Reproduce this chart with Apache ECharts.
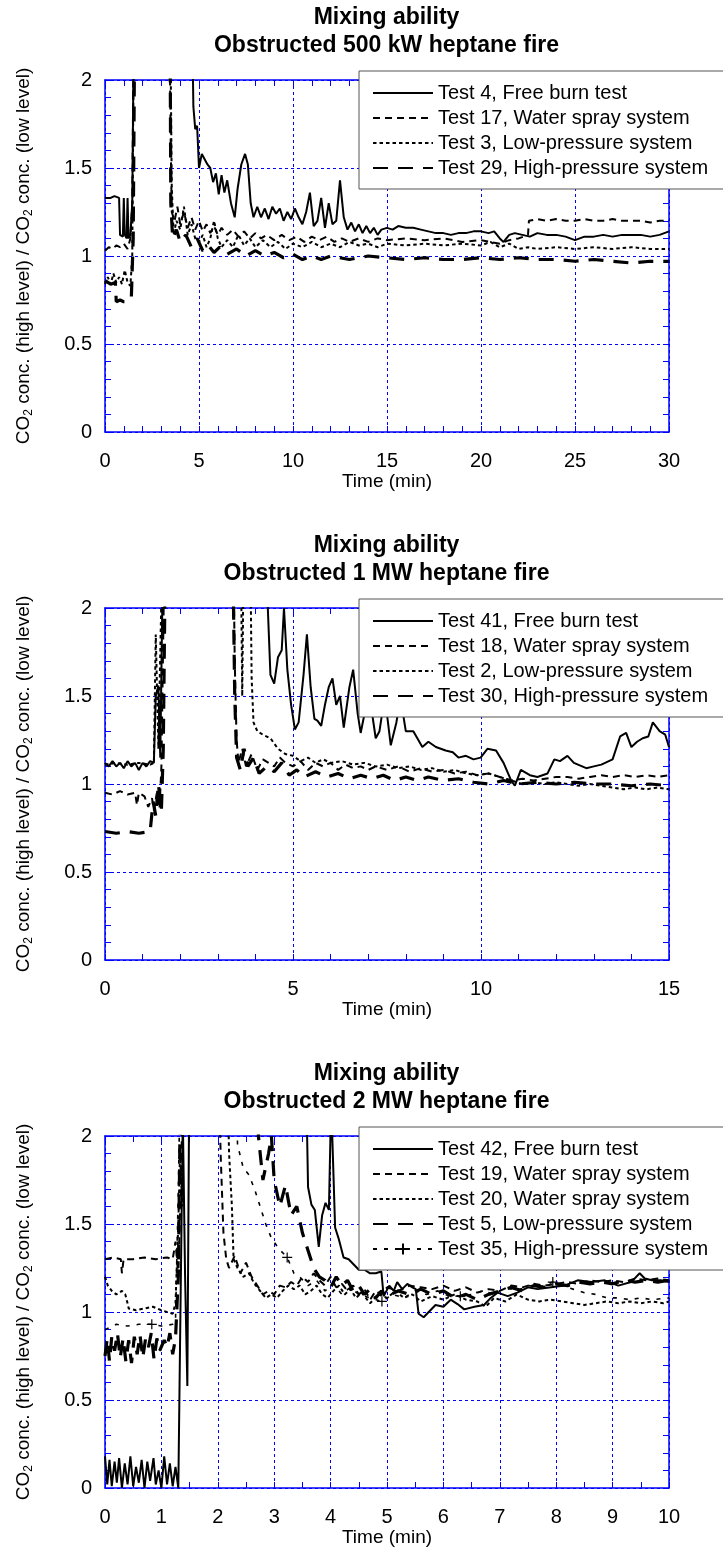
<!DOCTYPE html>
<html>
<head>
<meta charset="utf-8">
<title>Mixing ability</title>
<script src="https://cdn.jsdelivr.net/npm/echarts@6/dist/echarts.min.js"></script>
<style>
  html, body { margin: 0; padding: 0; background: #fff; }
  #chart { width: 723px; height: 1551px; }
</style>
</head>
<body>
<div id="chart"></div>
<script>
// ---- data: [time (min), ratio] ----

// 500 kW heptane fire
const t500Free = [[0,1.33],[0.3,1.33],[0.5,1.34],[0.75,1.33],[0.8,1.12],[0.95,1.11],[1.0,1.33],[1.05,1.12],[1.15,1.1],[1.2,1.33],[1.25,1.1],[1.35,1.12],[1.45,1.3],[1.5,1.9],[1.6,2.6],[4.6,2.6],[4.7,1.85],[4.8,1.72],[4.9,1.74],[5.0,1.5],[5.15,1.58],[5.3,1.55],[5.45,1.52],[5.6,1.5],[5.75,1.42],[5.9,1.47],[6.05,1.35],[6.2,1.46],[6.35,1.36],[6.5,1.43],[6.7,1.3],[6.9,1.22],[7.05,1.38],[7.25,1.52],[7.45,1.58],[7.6,1.52],[7.75,1.3],[7.9,1.22],[8.1,1.28],[8.3,1.22],[8.5,1.27],[8.7,1.21],[8.9,1.28],[9.1,1.24],[9.3,1.27],[9.5,1.2],[9.7,1.25],[9.9,1.21],[10.1,1.27],[10.3,1.22],[10.5,1.18],[10.7,1.25],[10.9,1.36],[11.1,1.17],[11.3,1.2],[11.5,1.33],[11.7,1.16],[11.9,1.3],[12.1,1.18],[12.3,1.2],[12.5,1.43],[12.7,1.22],[12.9,1.15],[13.1,1.19],[13.3,1.14],[13.5,1.18],[13.7,1.13],[13.9,1.17],[14.1,1.13],[14.3,1.16],[14.5,1.12],[14.7,1.15],[15.0,1.16],[15.3,1.15],[15.6,1.17],[16.0,1.16],[16.4,1.16],[16.8,1.15],[17.2,1.14],[17.6,1.13],[18.0,1.13],[18.4,1.12],[18.8,1.13],[19.2,1.13],[19.6,1.14],[20.0,1.14],[20.4,1.13],[20.7,1.14],[21.0,1.1],[21.2,1.08],[21.5,1.12],[21.8,1.13],[22.2,1.12],[22.6,1.11],[23.0,1.13],[23.5,1.12],[24.0,1.12],[24.5,1.11],[25.0,1.09],[25.5,1.11],[26.0,1.11],[26.5,1.12],[27.0,1.11],[27.5,1.12],[28.0,1.12],[28.5,1.12],[29.0,1.11],[29.5,1.12],[30,1.14]];
const t500Spray = [[0,1.03],[0.2,1.05],[0.4,1.04],[0.6,1.06],[0.8,1.05],[1.0,1.07],[1.2,1.04],[1.35,1.1],[1.45,1.3],[1.55,2.6],[3.4,2.6],[3.5,1.6],[3.55,1.25],[3.7,1.2],[3.85,1.28],[4.0,1.18],[4.2,1.25],[4.4,1.16],[4.6,1.22],[4.8,1.15],[5.0,1.2],[5.2,1.14],[5.4,1.18],[5.6,1.13],[5.8,1.17],[6.0,1.12],[6.2,1.16],[6.5,1.12],[6.8,1.15],[7.1,1.11],[7.4,1.14],[7.7,1.1],[8.0,1.13],[8.3,1.1],[8.6,1.12],[9,1.09],[9.4,1.12],[9.8,1.09],[10.2,1.11],[10.6,1.08],[11,1.11],[11.4,1.09],[11.8,1.11],[12.2,1.08],[12.6,1.1],[13,1.08],[13.5,1.1],[14,1.08],[14.5,1.1],[15,1.09],[16,1.1],[17,1.09],[18,1.1],[19,1.08],[20,1.09],[21,1.07],[21.5,1.09],[22,1.1],[22.5,1.12],[22.55,1.2],[23,1.21],[23.5,1.2],[24,1.21],[24.5,1.2],[25,1.2],[25.5,1.21],[26,1.2],[26.5,1.2],[27,1.21],[27.5,1.2],[28,1.2],[28.5,1.2],[29,1.19],[29.5,1.2],[30,1.2]];
const t500Low = [[0,0.84],[0.15,0.88],[0.3,0.84],[0.45,0.9],[0.6,0.85],[0.75,0.88],[0.9,0.84],[1.05,0.92],[1.2,0.85],[1.35,0.83],[1.45,1.0],[1.55,2.6],[3.45,2.6],[3.55,1.4],[3.65,1.12],[3.8,1.2],[4.0,1.15],[4.2,1.28],[4.4,1.12],[4.6,1.18],[4.8,1.1],[5.0,1.08],[5.2,1.12],[5.4,1.05],[5.6,1.1],[5.8,1.2],[6.0,1.1],[6.2,1.05],[6.5,1.09],[6.8,1.05],[7.1,1.12],[7.4,1.06],[7.7,1.1],[8.0,1.05],[8.4,1.09],[8.8,1.05],[9.2,1.08],[9.6,1.04],[10,1.07],[10.5,1.05],[11,1.08],[11.5,1.05],[12,1.07],[12.5,1.05],[13,1.08],[13.5,1.06],[14,1.07],[14.5,1.05],[15,1.07],[16,1.06],[17,1.07],[18,1.06],[19,1.07],[20,1.06],[20.5,1.08],[21,1.05],[21.5,1.07],[22,1.04],[22.5,1.05],[23,1.04],[24,1.05],[25,1.04],[26,1.05],[27,1.04],[28,1.05],[29,1.04],[30,1.04]];
const t500High = [[0,0.86],[0.3,0.84],[0.55,0.85],[0.6,0.74],[0.8,0.75],[1.0,0.74],[1.2,0.74],[1.4,0.76],[1.5,1.1],[1.6,2.6],[3.45,2.6],[3.5,1.3],[3.6,1.1],[3.8,1.15],[4.0,1.08],[4.3,1.12],[4.6,1.05],[4.9,1.1],[5.2,1.03],[5.5,1.06],[5.8,1.02],[6.1,1.05],[6.5,1.01],[7,1.04],[7.5,1.0],[8,1.03],[8.5,1.0],[9,1.02],[9.5,0.99],[10,1.01],[10.5,0.98],[11,1.0],[11.5,0.98],[12,1.0],[13,0.98],[14,1.0],[15,0.99],[16,0.98],[17,0.99],[18,0.98],[19,0.98],[20,0.99],[21,0.98],[22,0.99],[23,0.98],[24,0.98],[25,0.97],[26,0.98],[27,0.97],[28,0.96],[29,0.97],[30,0.97]];

// 1 MW heptane fire
const t1mwFree = [[0,1.12],[0.1,1.1],[0.2,1.13],[0.3,1.1],[0.4,1.12],[0.5,1.09],[0.6,1.13],[0.7,1.1],[0.8,1.12],[0.9,1.08],[1.0,1.12],[1.1,1.1],[1.2,1.13],[1.3,1.12],[1.35,1.5],[1.42,1.56],[1.47,1.15],[1.52,1.14],[1.56,2.6],[4.28,2.6],[4.33,2.0],[4.4,1.62],[4.5,1.57],[4.6,1.72],[4.7,1.76],[4.76,2.0],[4.85,1.65],[4.95,1.45],[5.05,1.31],[5.15,1.35],[5.28,1.62],[5.37,1.85],[5.47,1.55],[5.57,1.37],[5.65,1.36],[5.75,1.33],[5.85,1.45],[5.95,1.55],[6.05,1.6],[6.15,1.45],[6.25,1.5],[6.35,1.32],[6.5,1.55],[6.6,1.65],[6.72,1.4],[6.8,1.29],[6.95,1.45],[7.05,1.48],[7.2,1.26],[7.3,1.3],[7.44,1.5],[7.6,1.22],[7.75,1.35],[7.86,1.49],[8.0,1.3],[8.2,1.3],[8.44,1.21],[8.6,1.24],[8.8,1.21],[9.06,1.19],[9.25,1.18],[9.4,1.15],[9.6,1.16],[9.8,1.14],[9.99,1.15],[10.17,1.2],[10.4,1.19],[10.6,1.12],[10.8,1.02],[10.9,0.99],[11.06,1.08],[11.3,1.05],[11.5,1.04],[11.77,1.06],[11.95,1.14],[12.1,1.13],[12.3,1.16],[12.47,1.12],[12.8,1.09],[13.0,1.1],[13.2,1.11],[13.5,1.14],[13.7,1.27],[13.86,1.29],[14.0,1.21],[14.15,1.24],[14.3,1.26],[14.45,1.27],[14.57,1.35],[14.75,1.3],[14.9,1.28],[15,1.21]];
const t1mwSpray = [[0,0.95],[0.2,0.94],[0.4,0.96],[0.6,0.94],[0.8,0.95],[0.85,0.88],[0.9,0.95],[1.05,0.93],[1.15,0.87],[1.25,0.92],[1.3,0.85],[1.38,0.95],[1.45,0.86],[1.5,1.1],[1.6,2.6],[3.4,2.6],[3.45,1.7],[3.5,1.25],[3.55,1.12],[3.65,1.2],[3.75,1.1],[3.9,1.17],[4.05,1.08],[4.2,1.14],[4.35,1.12],[4.5,1.1],[4.65,1.15],[4.8,1.12],[5,1.1],[5.2,1.13],[5.4,1.08],[5.6,1.12],[5.8,1.1],[6.0,1.12],[6.2,1.08],[6.4,1.11],[6.6,1.09],[6.8,1.1],[7,1.08],[7.2,1.1],[7.5,1.08],[7.8,1.1],[8.1,1.07],[8.4,1.09],[8.7,1.07],[9,1.08],[9.3,1.06],[9.6,1.07],[9.9,1.05],[10.2,1.06],[10.5,1.04],[10.8,1.02],[11.1,1.03],[11.4,1.02],[11.7,1.03],[12,1.04],[12.3,1.04],[12.6,1.03],[12.9,1.04],[13.2,1.05],[13.5,1.04],[13.8,1.05],[14.1,1.04],[14.4,1.05],[14.7,1.04],[15,1.05]];
const t1mwLow = [[0,1.11],[0.3,1.12],[0.6,1.11],[0.9,1.12],[1.2,1.11],[1.3,1.12],[1.35,1.85],[1.42,1.2],[1.48,1.85],[1.55,2.6],[3.6,2.6],[3.65,1.5],[3.7,2.6],[3.85,2.6],[3.9,1.6],[3.95,1.35],[4.05,1.3],[4.2,1.28],[4.4,1.26],[4.6,1.2],[4.8,1.17],[5.0,1.16],[5.2,1.13],[5.4,1.15],[5.6,1.12],[5.8,1.14],[6.0,1.12],[6.3,1.13],[6.6,1.11],[6.9,1.12],[7.2,1.1],[7.5,1.11],[7.8,1.09],[8.1,1.1],[8.4,1.08],[8.7,1.09],[9,1.07],[9.3,1.08],[9.6,1.06],[9.9,1.05],[10.2,1.06],[10.5,1.04],[10.8,1.02],[11.1,1.0],[11.4,1.01],[11.7,1.0],[12,1.01],[12.3,1.0],[12.6,0.99],[12.9,1.0],[13.2,0.99],[13.5,0.98],[13.8,0.97],[14.1,0.98],[14.4,0.97],[14.7,0.98],[15,0.97]];
const t1mwHigh = [[0,0.73],[0.3,0.72],[0.6,0.73],[0.9,0.72],[1.2,0.73],[1.28,0.9],[1.35,0.82],[1.42,1.0],[1.5,0.85],[1.55,1.2],[1.62,2.6],[3.38,2.6],[3.45,1.5],[3.5,1.15],[3.6,1.08],[3.7,1.2],[3.8,1.1],[3.95,1.15],[4.1,1.06],[4.3,1.1],[4.5,1.07],[4.7,1.12],[4.9,1.05],[5.1,1.08],[5.3,1.04],[5.6,1.07],[5.9,1.04],[6.2,1.06],[6.5,1.03],[6.8,1.05],[7.1,1.03],[7.4,1.05],[7.7,1.02],[8,1.04],[8.3,1.02],[8.6,1.04],[9,1.02],[9.4,1.03],[9.8,1.01],[10.2,1.0],[10.6,1.02],[11,1.0],[11.5,1.01],[12,1.0],[12.5,1.01],[13,1.0],[13.5,1.0],[14,0.99],[14.5,1.0],[15,0.99]];

// 2 MW heptane fire
const t2mwFree = [[0,0.18],[0.04,0.02],[0.08,0.16],[0.12,0.01],[0.17,0.15],[0.21,0.03],[0.25,0.17],[0.3,0.0],[0.35,0.14],[0.4,0.02],[0.45,0.18],[0.5,0.01],[0.55,0.12],[0.6,0.03],[0.65,0.16],[0.7,0.0],[0.75,0.15],[0.8,0.04],[0.86,0.17],[0.9,0.02],[0.95,0.1],[1.0,0.0],[1.05,0.18],[1.1,0.02],[1.15,0.14],[1.2,0.01],[1.25,0.12],[1.3,0.0],[1.33,0.8],[1.38,2.1],[1.42,1.2],[1.46,0.58],[1.5,2.6],[3.55,2.6],[3.6,1.71],[3.66,1.61],[3.72,1.58],[3.79,1.37],[3.85,1.55],[3.91,1.62],[3.97,1.58],[4.01,2.2],[4.08,1.48],[4.14,1.42],[4.23,1.31],[4.32,1.3],[4.41,1.27],[4.5,1.24],[4.6,1.24],[4.7,1.22],[4.8,1.22],[4.9,1.23],[4.94,1.09],[5.04,1.15],[5.12,1.12],[5.18,1.17],[5.27,1.13],[5.36,1.16],[5.45,1.14],[5.51,1.13],[5.56,0.99],[5.65,0.97],[5.74,1.0],[5.86,1.04],[6.0,1.03],[6.13,1.07],[6.25,1.045],[6.37,1.015],[6.55,1.03],[6.72,1.04],[6.84,1.08],[6.96,1.11],[7.14,1.09],[7.31,1.11],[7.5,1.14],[7.67,1.13],[7.91,1.14],[8.15,1.15],[8.38,1.18],[8.62,1.17],[8.86,1.18],[9.1,1.15],[9.33,1.17],[9.48,1.22],[9.57,1.19],[9.7,1.18],[9.85,1.18],[10,1.17]];
const t2mwSpray19 = [[0,1.3],[0.15,1.31],[0.28,1.3],[0.3,1.22],[0.33,1.3],[0.5,1.3],[0.7,1.31],[0.9,1.3],[1.1,1.31],[1.2,1.3],[1.25,1.4],[1.3,1.2],[1.35,1.8],[1.4,2.6],[2.0,2.6],[2.05,1.9],[2.1,1.45],[2.15,1.3],[2.2,1.25],[2.3,1.32],[2.4,1.22],[2.5,1.28],[2.6,1.2],[2.7,1.15],[2.8,1.1],[2.9,1.12],[3.0,1.1],[3.1,1.15],[3.2,1.14],[3.3,1.17],[3.4,1.15],[3.5,1.2],[3.6,1.17],[3.7,1.22],[3.8,1.18],[3.9,1.15],[4.0,1.2],[4.1,1.14],[4.2,1.16],[4.3,1.12],[4.4,1.15],[4.5,1.1],[4.6,1.13],[4.7,1.07],[4.8,1.12],[4.9,1.1],[5.0,1.14],[5.2,1.12],[5.4,1.15],[5.6,1.14],[5.8,1.13],[6.0,1.15],[6.2,1.12],[6.4,1.14],[6.6,1.11],[6.8,1.13],[7.0,1.12],[7.2,1.15],[7.4,1.14],[7.6,1.16],[7.8,1.15],[8.0,1.16],[8.2,1.17],[8.4,1.16],[8.6,1.18],[8.8,1.17],[9.0,1.18],[9.2,1.17],[9.4,1.19],[9.6,1.18],[9.8,1.19],[10,1.18]];
const t2mwSpray20 = [[0,1.2],[0.05,1.15],[0.12,1.12],[0.2,1.1],[0.3,1.12],[0.36,1.1],[0.4,1.05],[0.42,1.02],[0.55,1.01],[0.7,1.02],[0.85,1.03],[1.0,1.01],[1.1,1.0],[1.2,0.99],[1.25,1.05],[1.3,1.5],[1.33,1.9],[1.37,1.6],[1.4,2.6],[2.15,2.6],[2.2,1.9],[2.25,1.6],[2.28,1.3],[2.35,1.25],[2.45,1.2],[2.55,1.22],[2.65,1.16],[2.75,1.12],[2.85,1.08],[2.95,1.1],[3.05,1.08],[3.15,1.12],[3.25,1.15],[3.35,1.13],[3.45,1.15],[3.55,1.1],[3.65,1.12],[3.75,1.15],[3.85,1.1],[3.95,1.08],[4.05,1.12],[4.15,1.15],[4.25,1.1],[4.35,1.13],[4.45,1.08],[4.55,1.11],[4.7,1.05],[4.85,1.1],[5.0,1.08],[5.15,1.12],[5.3,1.08],[5.45,1.1],[5.6,1.06],[5.8,1.09],[6.0,1.07],[6.2,1.1],[6.4,1.07],[6.6,1.06],[6.75,1.03],[6.9,1.08],[7.1,1.06],[7.3,1.1],[7.5,1.07],[7.7,1.06],[7.9,1.07],[8.1,1.06],[8.3,1.05],[8.5,1.04],[8.7,1.05],[8.9,1.06],[9.1,1.05],[9.3,1.06],[9.5,1.05],[9.7,1.06],[9.9,1.05],[10,1.06]];
const t2mwLow = [[0,0.75],[0.04,0.85],[0.08,0.72],[0.12,0.86],[0.17,0.78],[0.22,0.88],[0.27,0.74],[0.32,0.85],[0.37,0.72],[0.42,0.84],[0.47,0.71],[0.52,0.86],[0.57,0.76],[0.62,0.87],[0.67,0.74],[0.72,0.85],[0.77,0.8],[0.82,0.88],[0.87,0.73],[0.92,0.85],[0.97,0.78],[1.05,0.84],[1.1,0.8],[1.15,0.88],[1.2,0.76],[1.25,0.85],[1.3,1.2],[1.35,2.6],[2.7,2.6],[2.72,2.0],[2.8,1.75],[2.9,1.9],[2.95,2.0],[3.0,1.75],[3.1,1.6],[3.2,1.72],[3.3,1.55],[3.4,1.6],[3.5,1.45],[3.6,1.35],[3.7,1.25],[3.8,1.2],[3.9,1.18],[4.0,1.14],[4.1,1.2],[4.2,1.15],[4.3,1.18],[4.4,1.12],[4.5,1.15],[4.6,1.1],[4.7,1.13],[4.8,1.08],[4.9,1.12],[5.0,1.09],[5.2,1.12],[5.4,1.1],[5.6,1.13],[5.8,1.1],[6.0,1.12],[6.2,1.08],[6.4,1.1],[6.6,1.07],[6.8,1.1],[7.0,1.12],[7.2,1.14],[7.4,1.12],[7.6,1.15],[7.8,1.14],[8.0,1.16],[8.2,1.15],[8.4,1.17],[8.6,1.16],[8.8,1.17],[9,1.16],[9.2,1.18],[9.4,1.17],[9.6,1.18],[9.8,1.17],[10,1.18]];
const t2mwHigh = [[0,0.9],[0.2,0.93],[0.4,0.92],[0.6,0.93],[0.83,0.93],[1.0,0.92],[1.2,0.93],[1.25,0.95],[1.3,1.7],[1.35,2.6],[2.3,2.6],[2.35,1.95],[2.45,1.82],[2.55,1.78],[2.65,1.7],[2.75,1.6],[2.85,1.5],[2.95,1.42],[3.08,1.36],[3.23,1.31],[3.35,1.22],[3.45,1.2],[3.6,1.15],[3.75,1.18],[3.9,1.12],[4.05,1.16],[4.2,1.1],[4.35,1.14],[4.5,1.1],[4.7,1.08],[4.91,1.06],[5.1,1.1],[5.3,1.08],[5.5,1.12],[5.7,1.1],[5.9,1.12],[6.1,1.09],[6.3,1.09],[6.5,1.1],[6.7,1.12],[6.9,1.1],[7.1,1.14],[7.3,1.12],[7.5,1.15],[7.7,1.14],[7.94,1.17],[8.1,1.15],[8.3,1.13],[8.5,1.11],[8.7,1.1],[8.9,1.08],[9.1,1.08],[9.3,1.07],[9.5,1.08],[9.7,1.07],[10,1.08]];
// times where the "+" marker of Test 35 is drawn
const plusAt = [0.83, 3.23, 4.91, 6.3, 7.94];

const yTicks = [0, 0.5, 1, 1.5, 2];

// ---- layout / styles ----
const FONT = '"Liberation Sans", Arial, Helvetica, sans-serif';
const BLUE = '#0000ff';
const PITCH = 528;        // vertical distance between the three panels
const PLOT = { left: 105, top: 80, width: 564, height: 352 };

const styles = {
    solid: { type: 'solid', width: 2 },
    dash: { type: [7, 5], width: 2 },
    dot: { type: [3.5, 3], width: 2 },
    longdash: { type: [15, 10], width: 3.2 },
    dashplus: { type: [4, 7], width: 1.6 }
};

const panels = [
    {
        title: 'Mixing ability\nObstructed 500 kW heptane fire',
        xMax: 30, xStep: 5, xMinor: 5,
        series: [
            { name: 'Test 4, Free burn test', data: t500Free, style: 'solid' },
            { name: 'Test 17, Water spray system', data: t500Spray, style: 'dash' },
            { name: 'Test 3, Low-pressure system', data: t500Low, style: 'dot' },
            { name: 'Test 29, High-pressure system', data: t500High, style: 'longdash' }
        ]
    },
    {
        title: 'Mixing ability\nObstructed 1 MW heptane fire',
        xMax: 15, xStep: 5, xMinor: 5,
        series: [
            { name: 'Test 41, Free burn test', data: t1mwFree, style: 'solid' },
            { name: 'Test 18, Water spray system', data: t1mwSpray, style: 'dash' },
            { name: 'Test 2, Low-pressure system', data: t1mwLow, style: 'dot' },
            { name: 'Test 30, High-pressure system', data: t1mwHigh, style: 'longdash' }
        ]
    },
    {
        title: 'Mixing ability\nObstructed 2 MW heptane fire',
        xMax: 10, xStep: 1, xMinor: 2,
        series: [
            { name: 'Test 42, Free burn test', data: t2mwFree, style: 'solid' },
            { name: 'Test 19, Water spray system', data: t2mwSpray19, style: 'dash' },
            { name: 'Test 20, Water spray system', data: t2mwSpray20, style: 'dot' },
            { name: 'Test 5, Low-pressure system', data: t2mwLow, style: 'longdash' },
            { name: 'Test 35, High-pressure system', data: t2mwHigh, style: 'dashplus', plus: true }
        ]
    }
];

const tickStyle = { color: BLUE, width: 1 };

function xAxisFor(p, i, mirror) {
    return {
        type: 'value', gridIndex: i, min: 0, max: p.xMax, interval: p.xStep,
        position: mirror ? 'top' : 'bottom',
        name: mirror ? '' : 'Time (min)',
        nameLocation: 'middle', nameGap: 40,
        nameTextStyle: { fontFamily: FONT, fontSize: 19, color: '#000' },
        axisLine: { show: true, onZero: false, lineStyle: { color: BLUE, width: 1.5 } },
        axisTick: { show: true, inside: true, length: 6, lineStyle: tickStyle },
        minorTick: { show: true, splitNumber: p.xMinor, length: 6, lineStyle: tickStyle },
        axisLabel: { show: !mirror, margin: 19, fontFamily: FONT, fontSize: 20, color: '#000' },
        splitLine: { show: !mirror, lineStyle: { color: BLUE, type: [3, 3], width: 1 } }
    };
}

function yAxisFor(i, mirror) {
    return {
        type: 'value', gridIndex: i, min: 0, max: 2, interval: 0.5,
        position: mirror ? 'right' : 'left',
        name: mirror ? '' : 'CO{s|2} conc. (high level) / CO{s|2} conc. (low level)',
        nameLocation: 'middle', nameGap: 70, nameRotate: 90,
        nameTextStyle: {
            fontFamily: FONT, fontSize: 19, color: '#000',
            rich: { s: { fontFamily: FONT, fontSize: 12, color: '#000', padding: [10, 0, 0, 0] } }
        },
        axisLine: { show: true, onZero: false, lineStyle: { color: BLUE, width: 1.5 } },
        axisTick: { show: true, inside: true, length: 6, lineStyle: tickStyle },
        minorTick: { show: true, splitNumber: 5, length: 6, lineStyle: tickStyle },
        axisLabel: {
            show: !mirror, margin: 13, fontFamily: FONT, fontSize: 20, color: '#000',
            formatter: v => (yTicks.indexOf(v) >= 0 ? String(v) : '')
        },
        splitLine: { show: !mirror, lineStyle: { color: BLUE, type: [3, 3], width: 1 } }
    };
}

const grid = [], xAxis = [], yAxis = [], legend = [], series = [], graphic = [];

panels.forEach((p, i) => {
    const off = PITCH * i;
    grid.push({ left: PLOT.left, top: PLOT.top + off, width: PLOT.width, height: PLOT.height, containLabel: false });
    xAxis.push(xAxisFor(p, i, false));
    yAxis.push(yAxisFor(i, false));
    // mirrored axes give the ticks on the top and right frame
    xAxis.push(xAxisFor(p, i, true));
    yAxis.push(yAxisFor(i, true));

    graphic.push({
        type: 'text', x: 386.5, y: 4 + off, silent: true,
        style: {
            text: p.title, align: 'center', verticalAlign: 'top',
            font: 'bold 23px ' + FONT, lineHeight: 28, fill: '#000'
        }
    });

    legend.push({
        // only the "+" of Test 35 is shown as a symbol in the legend
        data: p.series.map(s => ({ name: s.name, itemStyle: { opacity: s.plus ? 1 : 0 } })),
        orient: 'vertical', left: 359, top: 71 + off,
        itemWidth: 60, itemHeight: 14, itemGap: 5,
        padding: [12, 16, 11, 13],
        backgroundColor: '#fff', borderColor: '#555', borderWidth: 1,
        selectedMode: false,
        textStyle: { fontFamily: FONT, fontSize: 20, lineHeight: 20, color: '#000' }
    });

    p.series.forEach(s => {
        const item = {
            name: s.name, type: 'line', data: s.data,
            xAxisIndex: i * 2, yAxisIndex: i * 2,
            lineStyle: Object.assign({ color: '#000' }, styles[s.style]),
            itemStyle: { color: '#000' },
            symbol: 'none', showSymbol: false,
            clip: true, z: 3
        };
        if (s.plus) {
            item.symbol = 'path://M5,0L5,10M0,5L10,5';
            item.showSymbol = true;
            item.showAllSymbol = true;
            item.symbolSize = v => (plusAt.indexOf(v[0]) >= 0 ? 10 : 0);
            item.itemStyle = { color: '#000', borderColor: '#000', borderWidth: 1.2 };
        }
        series.push(item);
    });
});

const chart = echarts.init(document.getElementById('chart'), null, { renderer: 'canvas' });
chart.setOption({
    animation: false,
    backgroundColor: '#fff',
    grid, xAxis, yAxis, legend, series, graphic
});
</script>
</body>
</html>
